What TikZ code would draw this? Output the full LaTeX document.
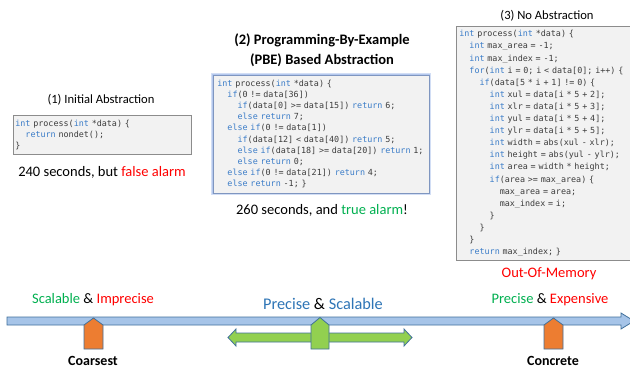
\documentclass[tikz,border=0pt]{standalone}
\usepackage{fontspec}
\setmainfont{Carlito}
\newfontfamily\codefont{DejaVu Sans Mono}

\definecolor{kwblue}{HTML}{3A7CC8}
\definecolor{codegray}{HTML}{3C3C3C}
\definecolor{boxfill}{HTML}{F2F2F2}
\definecolor{boxgray}{HTML}{8C8C8C}
\definecolor{boxblue}{HTML}{7F96C0}
\definecolor{glowblue}{HTML}{B4C8EE}
\definecolor{alarmred}{HTML}{FF0000}
\definecolor{okgreen}{HTML}{00B050}
\definecolor{midblue}{HTML}{2E75B6}
\definecolor{barfill}{HTML}{A6C4E8}
\definecolor{shapeedge}{HTML}{41719C}
\definecolor{markorange}{HTML}{ED7D31}
\definecolor{markgreen}{HTML}{92D050}

% keyword colouring and indentation by character cells
\newcommand\kw[1]{\textcolor{kwblue}{#1}}
\newcommand\ind[1]{\hspace*{#1\fontcharwd\font`\x}}
% code listing: one unbreakable line per row
\newenvironment{codelines}{\begin{tabular}{@{}l@{}}}{\end{tabular}}

\begin{document}
\begin{tikzpicture}[x=1pt, y=-1pt,
  codebox/.style={draw=boxgray, fill=boxfill, line width=0.7pt, align=left,
    anchor=north west, text=codegray, inner ysep=0pt},
  title/.style={font=\fontsize{12.6}{14}\selectfont, inner sep=0pt},
  bigtitle/.style={font=\bfseries\fontsize{14.5}{16}\selectfont, inner sep=0pt},
  verdict/.style={font=\fontsize{14.5}{16}\selectfont, inner sep=0pt},
  scalelabel/.style={font=\fontsize{14.5}{16}\selectfont, inner sep=0pt},
  endlabel/.style={font=\bfseries\fontsize{14}{16}\selectfont, inner sep=0pt},
  shapeline/.style={draw=shapeedge, line width=0.8pt, line join=miter}]

\fill[white] (0,0) rectangle (630,372);
\useasboundingbox (0,0) rectangle (630,372);

% ---- (1) initial abstraction ----
\node[title] (t1) at (101,100) {(1) Initial Abstraction};
\node[codebox, inner xsep=2pt, text width=174pt, minimum height=39pt,
  font=\codefont\fontsize{8.4}{11}\selectfont] (c1) at (13,115) {%
\begin{codelines}
\kw{int} process(\kw{int} *data) \{\\
\ind2\kw{return} nondet();\\
\}
\end{codelines}};
\node[verdict] (v1) at (102,172) {240 seconds, but \textcolor{alarmred}{false alarm}};

% ---- (2) PBE based abstraction ----
\node[bigtitle] (t2a) at (322,40) {(2) Programming-By-Example};
\node[bigtitle] (t2b) at (322,60) {(PBE) Based Abstraction};
\node[codebox, draw=boxblue, inner xsep=4pt, text width=208pt, minimum height=118pt,
  font=\codefont\fontsize{8.4}{11.2}\selectfont,
  preaction={draw=glowblue!60, line width=4pt},
  preaction={draw=glowblue, line width=2.2pt}] (c2) at (213,75) {%
\begin{codelines}
\kw{int} process(\kw{int} *data) \{\\
\ind2\kw{if}(0 != data[36])\\
\ind4\kw{if}(data[0] >= data[15]) \kw{return} 6;\\
\ind4\kw{else return} 7;\\
\ind2\kw{else if}(0 != data[1])\\
\ind4\kw{if}(data[12] < data[40]) \kw{return} 5;\\
\ind4\kw{else if}(data[18] >= data[20]) \kw{return} 1;\\
\ind4\kw{else return} 0;\\
\ind2\kw{else if}(0 != data[21]) \kw{return} 4;\\
\ind2\kw{else return} -1; \}
\end{codelines}};
\node[verdict] (v2) at (322,210) {260 seconds, and \textcolor{okgreen}{true alarm}!};

% ---- (3) no abstraction ----
\node[title] (t3) at (547,16) {(3) No Abstraction};
\node[codebox, inner xsep=3pt, text width=178pt, minimum height=234pt,
  font=\codefont\fontsize{8.4}{12.1}\selectfont] (c3) at (456,26) {%
\begin{codelines}
\kw{int} process(\kw{int} *data) \{\\
\ind2\kw{int} max\_area = -1;\\
\ind2\kw{int} max\_index = -1;\\
\ind2\kw{for}(\kw{int} i = 0; i < data[0]; i++) \{\\
\ind4\kw{if}(data[5 * i + 1] != 0) \{\\
\ind6\kw{int} xul = data[i * 5 + 2];\\
\ind6\kw{int} xlr = data[i * 5 + 3];\\
\ind6\kw{int} yul = data[i * 5 + 4];\\
\ind6\kw{int} ylr = data[i * 5 + 5];\\
\ind6\kw{int} width = abs(xul - xlr);\\
\ind6\kw{int} height = abs(yul - ylr);\\
\ind6\kw{int} area = width * height;\\
\ind6\kw{if}(area >= max\_area) \{\\
\ind8max\_area = area;\\
\ind8max\_index = i;\\
\ind6\}\\
\ind4\}\\
\ind2\}\\
\ind2\kw{return} max\_index; \}
\end{codelines}};
\node[verdict, text=alarmred] (v3) at (549,274) {Out-Of-Memory};

% ---- precision / scalability axis ----
\node[scalelabel] (s1) at (93,300) {\textcolor{okgreen}{Scalable} \& \textcolor{alarmred}{Imprecise}};
\node[scalelabel, font=\fontsize{16.3}{18}\selectfont] (s2) at (323,304)
  {\textcolor{midblue}{Precise} \& \textcolor{midblue}{Scalable}};
\node[scalelabel] (s3) at (550,300) {\textcolor{okgreen}{Precise} \& \textcolor{alarmred}{Expensive}};

\filldraw[shapeline, fill=barfill]
  (7,317) -- (621,317) -- (621,313) -- (634,321) -- (621,329) -- (621,325) -- (7,325) -- cycle;

% range of the PBE abstraction
\filldraw[shapeline, fill=markgreen]
  (228,337.5) -- (236,329) -- (236,333) -- (404,333) -- (404,329) -- (412,337.5)
  -- (404,346) -- (404,342) -- (236,342) -- (236,346) -- cycle;

% position markers
\filldraw[shapeline, fill=markorange]
  (84,349) -- (84,325) -- (93.5,318) -- (103,325) -- (103,349) -- cycle;
\filldraw[shapeline, fill=markgreen]
  (311,349) -- (311,325) -- (320,317.5) -- (329,325) -- (329,349) -- cycle;
\filldraw[shapeline, fill=markorange]
  (544,349) -- (544,325) -- (553.5,318) -- (563,325) -- (563,349) -- cycle;

\node[endlabel] (e1) at (93,361) {Coarsest};
\node[endlabel] (e2) at (553,361) {Concrete};
\end{tikzpicture}
\end{document}
